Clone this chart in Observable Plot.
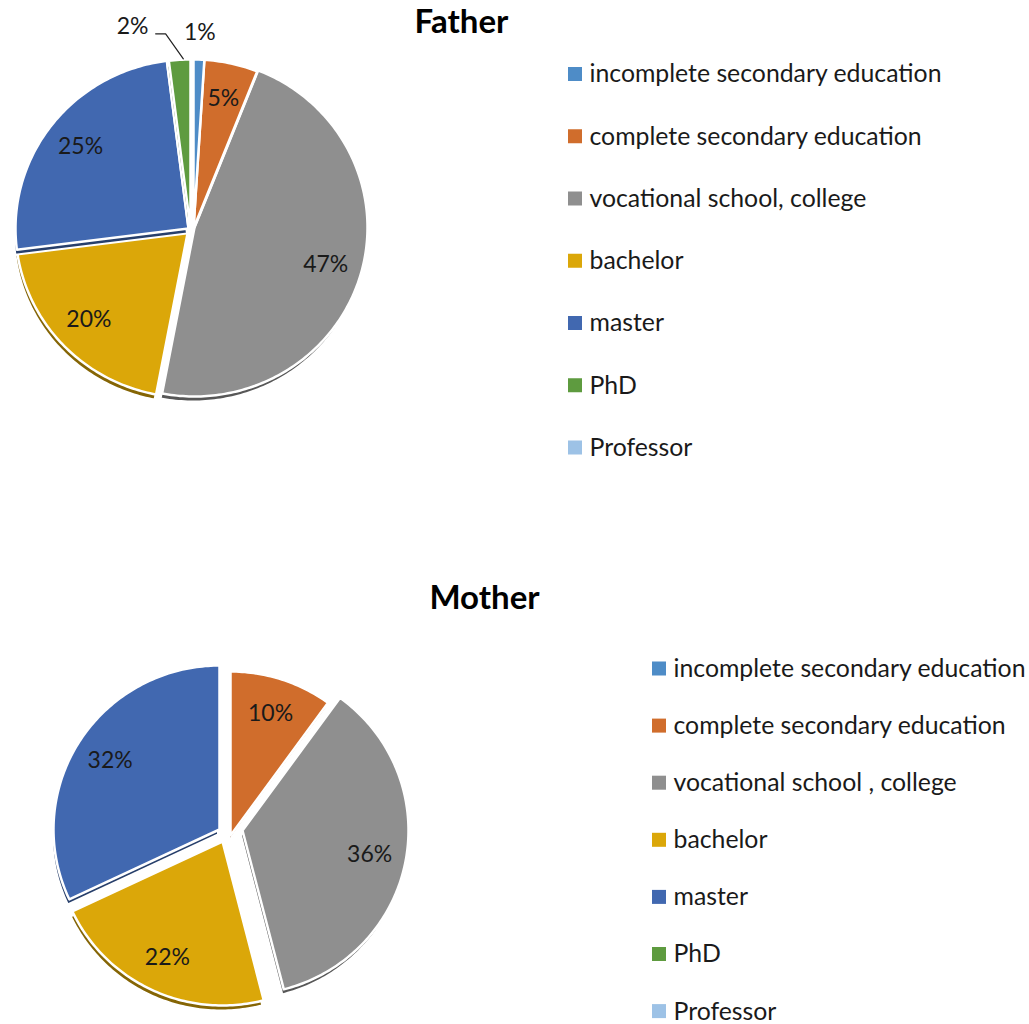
<!DOCTYPE html>
<html><head><meta charset="utf-8">
<script src="https://cdn.jsdelivr.net/npm/d3@7"></script>
<script src="https://cdn.jsdelivr.net/npm/@observablehq/plot@0.6"></script>
<style>body{margin:0;background:#fff}</style>
</head><body><div id="chart"></div>
<script>
// ---- data ----
const categories = ["incomplete secondary education","complete secondary education","vocational school, college","bachelor","master","PhD","Professor"];
const motherLegendLabels = ["incomplete secondary education","complete secondary education","vocational school , college","bachelor","master","PhD","Professor"];
const fatherValues = [1,5,47,20,25,2,0];
const motherValues = [0,10,36,22,32,0,0];
const colors = ["#4E8CC7","#D06D2C","#8F8F8F","#DBA709","#4168B0","#5E9B3F","#9DC2E6"];
const titles = ["Father","Mother"];

// ---- layout ----
const W = 1029, H = 1024;
const FONT = "Lato, 'Open Sans', sans-serif";
const layouts = [
  {title: titles[0], values: fatherValues, legend: categories, cx: 190, cy: 228, rx: 173, ry: 169,
   offsets: [[3,0],[3,0],[4,-1],[-2,0],[-2,0],[0,0],[0,0]], labelFrac: 0.79,
   small: {0: {type: "radial", dist: 27}, 5: {type: "leader", leader: [[3.7,-1],[-14,-26],[-24,-26]], label: [-47,-33]}},
   titleX: 461, titleY: 22, legX: 568, legY: 74, legStep: 62.25},
  {title: titles[1], values: motherValues, legend: motherLegendLabels, cx: 226, cy: 834, rx: 166, ry: 164,
   offsets: [[0,0],[4,1],[16,-4],[-4,7],[-7,-5],[0,0],[0,0]], labelFrac: 0.78, small: {},
   titleX: 484, titleY: 598, legX: 652, legY: 668.5, legStep: 57.1}
];

function slicesOf(L) {
  const total = d3.sum(L.values);
  let acc = 0;
  return L.values.map((v, i) => {
    const a0 = acc / total * 2 * Math.PI; acc += v;
    const a1 = acc / total * 2 * Math.PI;
    return {i, v, a0, a1, mid: (a0 + a1) / 2,
      ax: L.cx + L.offsets[i][0], ay: L.cy + L.offsets[i][1],
      color: colors[i], pct: Math.round(v / total * 100) + "%"};
  }).filter(s => s.v > 0);
}
function wedge(s, L, dx = 0, dy = 0) {
  const cx = s.ax + dx, cy = s.ay + dy;
  const pts = [{x: cx, y: cy}];
  const n = Math.max(2, Math.ceil((s.a1 - s.a0) / (Math.PI / 180)));
  for (let k = 0; k <= n; k++) {
    const a = s.a0 + (s.a1 - s.a0) * k / n;
    pts.push({x: cx + L.rx * Math.sin(a), y: cy - L.ry * Math.cos(a)});
  }
  pts.push({x: cx, y: cy});
  return pts;
}

const marks = [];
for (const L of layouts) {
  const sl = slicesOf(L);
  const order = sl.slice().sort((a, b) => (-Math.cos(b.mid)) - (-Math.cos(a.mid)));
  for (const s of order) {
    marks.push(Plot.line(wedge(s, L, -1.5, 5), {x: "x", y: "y", fill: d3.color(s.color).darker(1.4).formatHex(), stroke: "white", strokeWidth: 2}));
    marks.push(Plot.line(wedge(s, L), {x: "x", y: "y", fill: s.color, stroke: "white", strokeWidth: 2.5}));
  }
  // labels
  const labels = [];
  for (const s of sl) {
    const sx = Math.sin(s.mid), sy = -Math.cos(s.mid);
    const sm = L.small[s.i];
    if (!sm) {
      labels.push({x: s.ax + L.labelFrac * L.rx * sx, y: s.ay + L.labelFrac * L.ry * sy, t: s.pct});
    } else if (sm.type === "radial") {
      labels.push({x: s.ax + (L.rx + sm.dist) * sx, y: s.ay + (L.ry + sm.dist) * sy, t: s.pct});
    } else {
      const px = s.ax + L.rx * sx, py = s.ay + L.ry * sy;
      marks.push(Plot.line(sm.leader.map(([dx, dy]) => ({x: px + dx, y: py + dy})), {x: "x", y: "y", stroke: "#222", strokeWidth: 1.2}));
      labels.push({x: px + sm.label[0], y: py + sm.label[1], t: s.pct});
    }
  }
  marks.push(Plot.text(labels, {x: "x", y: "y", text: "t", fontSize: 23, fill: "#1a1a1a", fontFamily: FONT}));
  // title
  marks.push(Plot.text([L.title], {x: () => L.titleX, y: () => L.titleY, text: d => d, fontSize: 33, fontWeight: "bold", fill: "#000", fontFamily: FONT}));
  // legend
  const leg = L.legend.map((name, i) => ({name, color: colors[i], y: L.legY + i * L.legStep}));
  marks.push(Plot.rect(leg, {x1: () => L.legX, x2: () => L.legX + 14, y1: d => d.y - 7, y2: d => d.y + 7, fill: d => d.color}));
  marks.push(Plot.text(leg, {x: () => L.legX + 21, y: "y", text: "name", textAnchor: "start", fontSize: 24.8, fill: "#1a1a1a", fontFamily: FONT}));
}

const chart = Plot.plot({
  width: W, height: H, margin: 0,
  x: {type: "linear", domain: [0, W], range: [0, W], axis: null},
  y: {type: "linear", domain: [0, H], range: [0, H], axis: null},
  style: {fontFamily: FONT, background: "white"},
  marks
});
document.getElementById("chart").appendChild(chart);
</script>
</body></html>
